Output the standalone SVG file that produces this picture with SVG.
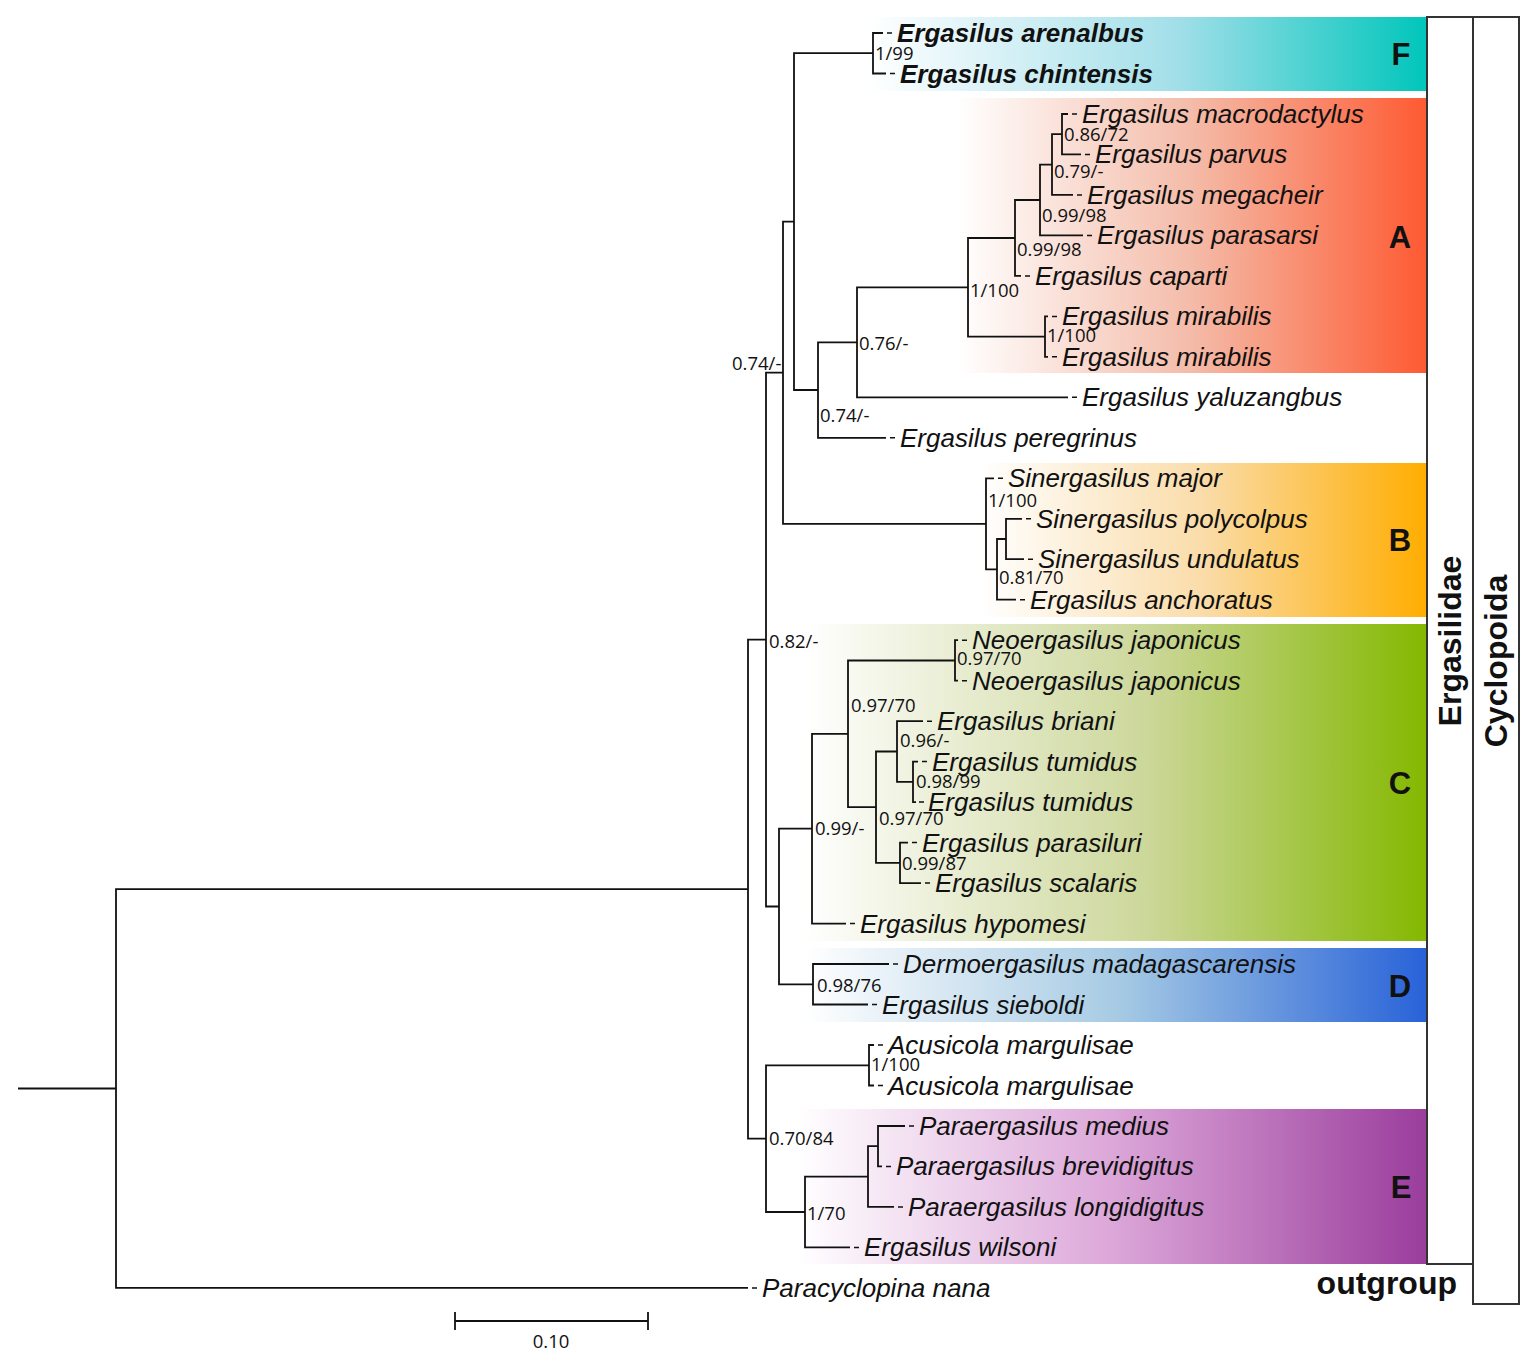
<svg xmlns="http://www.w3.org/2000/svg" width="1536" height="1365" viewBox="0 0 1536 1365">
<defs>
<linearGradient id="gF" x1="0" y1="0" x2="1" y2="0"><stop offset="0" stop-color="#ffffff"/><stop offset="0.12" stop-color="#ebf8fb"/><stop offset="0.55" stop-color="#a3dfe9"/><stop offset="1" stop-color="#00c6bb"/></linearGradient>
<linearGradient id="gA" x1="0" y1="0" x2="1" y2="0"><stop offset="0" stop-color="#ffffff"/><stop offset="0.5" stop-color="#f4bba8"/><stop offset="1" stop-color="#fe5a32"/></linearGradient>
<linearGradient id="gB" x1="0" y1="0" x2="1" y2="0"><stop offset="0" stop-color="#ffffff"/><stop offset="0.5" stop-color="#fadca9"/><stop offset="1" stop-color="#ffad00"/></linearGradient>
<linearGradient id="gC" x1="0" y1="0" x2="1" y2="0"><stop offset="0" stop-color="#ffffff"/><stop offset="0.55" stop-color="#ccd79a"/><stop offset="1" stop-color="#84b800"/></linearGradient>
<linearGradient id="gD" x1="0" y1="0" x2="1" y2="0"><stop offset="0" stop-color="#ffffff"/><stop offset="0.5" stop-color="#a7cbe4"/><stop offset="1" stop-color="#2862d8"/></linearGradient>
<linearGradient id="gE" x1="0" y1="0" x2="1" y2="0"><stop offset="0" stop-color="#ffffff"/><stop offset="0.5" stop-color="#dca7d9"/><stop offset="1" stop-color="#9a3d9c"/></linearGradient>
<style>
.br{fill:none;stroke:#111;stroke-width:1.8}
.tx{font-family:"Liberation Sans",Arial,sans-serif;font-style:italic;font-size:26px;fill:#111}
.bd{font-weight:bold}
.sp{font-family:"Open Sans","Noto Sans",sans-serif;font-size:18.5px;fill:#111}
.cl{font-family:"Liberation Sans",Arial,sans-serif;font-weight:bold;font-size:31px;fill:#111;text-anchor:middle}
.big{font-family:"Liberation Sans",Arial,sans-serif;font-weight:bold;font-size:32px;fill:#111}
.box{fill:#fff;stroke:#333;stroke-width:2}
</style>
</defs>
<rect width="1536" height="1365" fill="#fff"/>
<g id="clades">
<rect x="868" y="17" width="559" height="74" fill="url(#gF)"/>
<rect x="958" y="98" width="469" height="275" fill="url(#gA)"/>
<rect x="980" y="463" width="447" height="154" fill="url(#gB)"/>
<rect x="805" y="624" width="622" height="317" fill="url(#gC)"/>
<rect x="805" y="948" width="622" height="74" fill="url(#gD)"/>
<rect x="798" y="1109" width="629" height="155" fill="url(#gE)"/>
<text class="cl" x="1401" y="65">F</text>
<text class="cl" x="1400" y="248">A</text>
<text class="cl" x="1400" y="551">B</text>
<text class="cl" x="1400" y="794">C</text>
<text class="cl" x="1400" y="997">D</text>
<text class="cl" x="1401" y="1198">E</text>
</g>
<g id="groups">
<rect class="box" x="1427" y="17" width="46" height="1247"/>
<rect class="box" x="1473" y="17" width="46" height="1287"/>
<text class="big" text-anchor="middle" transform="translate(1461,641) rotate(-90)">Ergasilidae</text>
<text class="big" text-anchor="middle" transform="translate(1507,661) rotate(-90)">Cyclopoida</text>
<text class="big" text-anchor="end" x="1457" y="1294">outgroup</text>
</g>
<g id="connectors" class="br">
<path d="M18 1088.5H116M748 889.1H116V1287.9H748"/>
<path d="M766 639.6H748V1138.6H766"/>
<path d="M783 372.7H766V906.5H779"/>
<path d="M794 221.6H783V523.8H986"/>
<path d="M873 53.2H794V390H818"/>
<path d="M883 33H873V73.5H886"/>
<path d="M857 342.3H818V437.8H886"/>
<path d="M968 287.3H857V397.3H1068"/>
<path d="M1015 238H968V336.6H1045"/>
<path d="M1040 200H1015V275.9H1021"/>
<path d="M1052 164.6H1040V235.4H1083"/>
<path d="M1062 134.2H1052V194.9H1073"/>
<path d="M1068 114H1062V154.4H1081"/>
<path d="M1048 316.4H1045V356.8H1048"/>
<path d="M994 478.3H986V569.4H997"/>
<path d="M1006 539H997V599.7H1016"/>
<path d="M1022 518.8H1006V559.2H1024"/>
<path d="M812 828.7H779V984.3H813"/>
<path d="M848 733.9H812V923.6H846"/>
<path d="M955 660.5H848V807.2H876"/>
<path d="M958 640.2H955V680.7H958"/>
<path d="M897 751.5H876V862.9H900"/>
<path d="M923 721.2H897V781.9H913"/>
<path d="M918 761.6H913V802.1H916"/>
<path d="M908 842.6H900V883.1H921"/>
<path d="M889 964H813V1004.5H868"/>
<path d="M869 1065.3H766V1212H805"/>
<path d="M874 1045H869V1085.5H874"/>
<path d="M868 1176.6H805V1247.4H850"/>
<path d="M878 1146.2H868V1206.9H894"/>
<path d="M905 1126H878V1166.4H882"/>
<path stroke-width="1.5" d="M887 33h5M890 73.5h5M1072 114h5M1085 154.4h5M1077 194.9h5M1087 235.4h5M1025 275.9h5M1052 316.4h5M1052 356.8h5M1072 397.3h5M890 437.8h5M998 478.3h5M1026 518.8h5M1028 559.2h5M1020 599.7h5M962 640.2h5M962 680.7h5M927 721.2h5M922 761.6h5M919 802.1h5M912 842.6h5M925 883.1h5M850 923.6h5M893 964h5M872 1004.5h5M878 1045h5M878 1085.5h5M909 1126h5M886 1166.4h5M898 1206.9h5M854 1247.4h5M752 1287.9h5"/>
<path d="M455 1321H648M455 1312V1330M648 1312V1330"/>
</g>
<g id="taxa">
<text class="tx bd" x="897" y="42">Ergasilus arenalbus</text>
<text class="tx bd" x="900" y="82.5">Ergasilus chintensis</text>
<text class="tx" x="1082" y="123">Ergasilus macrodactylus</text>
<text class="tx" x="1095" y="163.4">Ergasilus parvus</text>
<text class="tx" x="1087" y="203.9">Ergasilus megacheir</text>
<text class="tx" x="1097" y="244.4">Ergasilus parasarsi</text>
<text class="tx" x="1035" y="284.9">Ergasilus caparti</text>
<text class="tx" x="1062" y="325.4">Ergasilus mirabilis</text>
<text class="tx" x="1062" y="365.8">Ergasilus mirabilis</text>
<text class="tx" x="1082" y="406.3">Ergasilus yaluzangbus</text>
<text class="tx" x="900" y="446.8">Ergasilus peregrinus</text>
<text class="tx" x="1008" y="487.3">Sinergasilus major</text>
<text class="tx" x="1036" y="527.8">Sinergasilus polycolpus</text>
<text class="tx" x="1038" y="568.2">Sinergasilus undulatus</text>
<text class="tx" x="1030" y="608.7">Ergasilus anchoratus</text>
<text class="tx" x="972" y="649.2">Neoergasilus japonicus</text>
<text class="tx" x="972" y="689.7">Neoergasilus japonicus</text>
<text class="tx" x="937" y="730.2">Ergasilus briani</text>
<text class="tx" x="932" y="770.6">Ergasilus tumidus</text>
<text class="tx" x="928" y="811.1">Ergasilus tumidus</text>
<text class="tx" x="922" y="851.6">Ergasilus parasiluri</text>
<text class="tx" x="935" y="892.1">Ergasilus scalaris</text>
<text class="tx" x="860" y="932.6">Ergasilus hypomesi</text>
<text class="tx" x="903" y="973">Dermoergasilus madagascarensis</text>
<text class="tx" x="882" y="1013.5">Ergasilus sieboldi</text>
<text class="tx" x="888" y="1054">Acusicola margulisae</text>
<text class="tx" x="888" y="1094.5">Acusicola margulisae</text>
<text class="tx" x="919" y="1135">Paraergasilus medius</text>
<text class="tx" x="896" y="1175.4">Paraergasilus brevidigitus</text>
<text class="tx" x="908" y="1215.9">Paraergasilus longidigitus</text>
<text class="tx" x="864" y="1256.4">Ergasilus wilsoni</text>
<text class="tx" x="762" y="1296.9">Paracyclopina nana</text>
</g>
<g id="support">
<text class="sp" x="875" y="60">1/99</text>
<text class="sp" x="1064" y="141">0.86/72</text>
<text class="sp" x="1054" y="178">0.79/-</text>
<text class="sp" x="1042" y="222">0.99/98</text>
<text class="sp" x="1017" y="256">0.99/98</text>
<text class="sp" x="970" y="297">1/100</text>
<text class="sp" x="1047" y="342">1/100</text>
<text class="sp" x="859" y="350">0.76/-</text>
<text class="sp" x="732" y="370">0.74/-</text>
<text class="sp" x="820" y="422">0.74/-</text>
<text class="sp" x="988" y="507">1/100</text>
<text class="sp" x="999" y="584">0.81/70</text>
<text class="sp" x="769" y="648">0.82/-</text>
<text class="sp" x="957" y="665">0.97/70</text>
<text class="sp" x="851" y="712">0.97/70</text>
<text class="sp" x="900" y="747">0.96/-</text>
<text class="sp" x="916" y="788">0.98/99</text>
<text class="sp" x="879" y="825">0.97/70</text>
<text class="sp" x="815" y="835">0.99/-</text>
<text class="sp" x="902" y="870">0.99/87</text>
<text class="sp" x="817" y="992">0.98/76</text>
<text class="sp" x="871" y="1071">1/100</text>
<text class="sp" x="769" y="1145">0.70/84</text>
<text class="sp" x="807" y="1220">1/70</text>
<text class="sp" x="551" y="1348" text-anchor="middle" font-size="15.5">0.10</text>
</g>
</svg>
